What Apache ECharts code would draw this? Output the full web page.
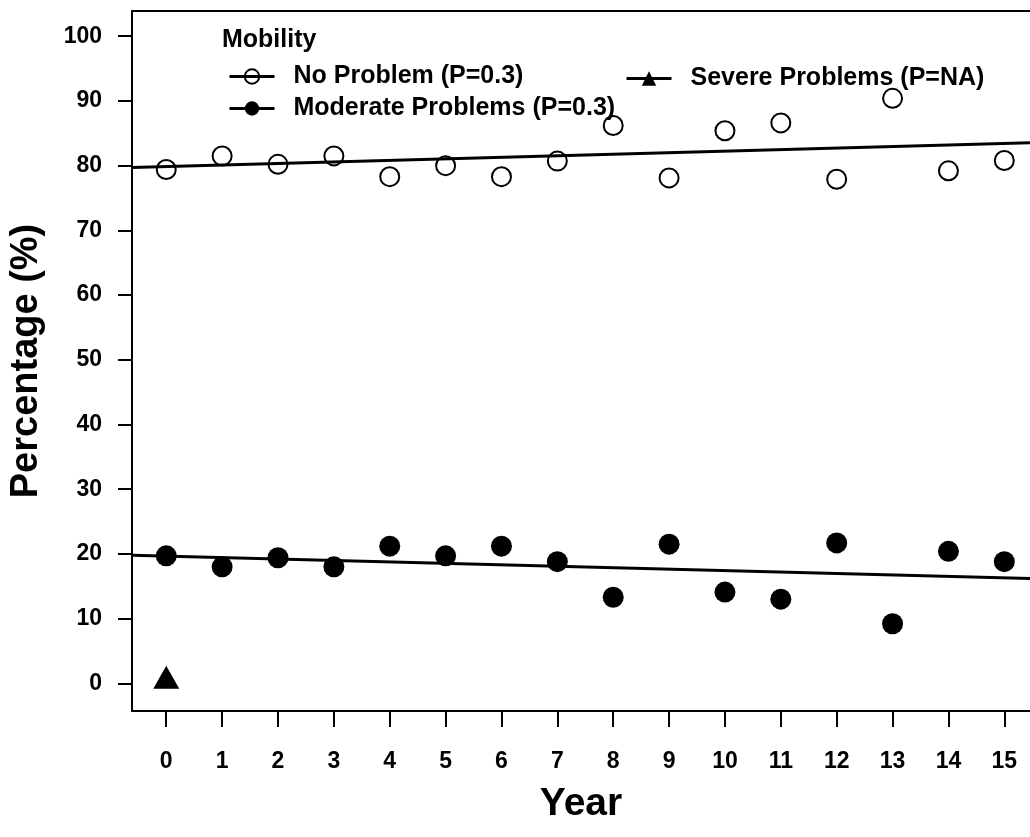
<!DOCTYPE html>
<html>
<head>
<meta charset="utf-8">
<script src="https://cdn.jsdelivr.net/npm/echarts@6/dist/echarts.min.js"></script>
<style>
  html, body { margin: 0; padding: 0; background: #fff; }
  #chart { width: 1030px; height: 837px; }
</style>
</head>
<body>
<div id="chart"></div>
<script>
// Share of respondents by mobility level, per survey year
const years = [0, 1, 2, 3, 4, 5, 6, 7, 8, 9, 10, 11, 12, 13, 14, 15];
const noProblem = [79.4, 81.5, 80.2, 81.5, 78.3, 80.0, 78.3, 80.7, 86.2, 78.1, 85.4, 86.6, 77.9, 90.4, 79.2, 80.8];
const moderateProblems = [19.7, 18.0, 19.4, 18.0, 21.2, 19.7, 21.2, 18.8, 13.3, 21.5, 14.1, 13.0, 21.7, 9.2, 20.4, 18.8];
const severeYears = [0];
const severeProblems = [0.3];

// Fitted trend lines, given by their end points at the edges of the year axis
const noProblemTrend = [[-0.613, 79.7], [15.46, 83.55]];
const moderateTrend = [[-0.613, 19.8], [15.46, 16.2]];

// Axis ranges and tick labels
const xRange = [-0.613, 15.46];
const yRange = [-4.28, 103.9];
const xTicks = [0, 1, 2, 3, 4, 5, 6, 7, 8, 9, 10, 11, 12, 13, 14, 15];
const yTicks = [0, 10, 20, 30, 40, 50, 60, 70, 80, 90, 100];

const seriesNames = ['No Problem (P=0.3)', 'Moderate Problems (P=0.3)', 'Severe Problems (P=NA)'];

const FONT = '"Liberation Sans", Arial, Helvetica, sans-serif';
const INK = '#000';

const pairs = (xs, ys) => xs.map((x, i) => [x, ys[i]]);

const legendText = {
  fontFamily: FONT, fontWeight: 'bold', fontSize: 25, color: INK,
  padding: [0, 0, 0, 14]
};
const legendLine = { color: INK, width: 3, opacity: 1, type: 'solid' };

const chart = echarts.init(document.getElementById('chart'), null, { renderer: 'canvas' });

chart.setOption({
  animation: false,
  backgroundColor: '#fff',
  title: {
    text: 'Mobility',
    left: 222, top: 28, padding: 0,
    textStyle: { fontFamily: FONT, fontWeight: 'bold', fontSize: 25, color: INK }
  },
  legend: [
    {
      data: [seriesNames[0], seriesNames[1]],
      orient: 'vertical', left: 228, top: 64, padding: 0,
      itemWidth: 45, itemHeight: 18, itemGap: 7,
      textStyle: legendText, lineStyle: legendLine,
      selectedMode: false
    },
    {
      data: [seriesNames[2]],
      orient: 'vertical', left: 625, top: 66, padding: 0,
      itemWidth: 45, itemHeight: 18,
      textStyle: legendText, lineStyle: legendLine,
      selectedMode: false
    }
  ],
  grid: { left: 131, right: 0, top: 11, bottom: 126, containLabel: false },
  xAxis: [
    {
      type: 'value', min: xRange[0], max: xRange[1],
      name: 'Year', nameLocation: 'middle', nameGap: 74,
      nameTextStyle: { fontFamily: FONT, fontWeight: 'bold', fontSize: 39, color: INK },
      axisLine: { show: true, onZero: false, lineStyle: { color: INK, width: 2 } },
      axisTick: { show: true, inside: false, length: 16, customValues: xTicks, lineStyle: { color: INK, width: 2 } },
      axisLabel: {
        customValues: xTicks, margin: 39,
        fontFamily: FONT, fontWeight: 'bold', fontSize: 23, color: INK
      },
      splitLine: { show: false }
    },
    {
      // plain frame line along the top edge
      type: 'value', position: 'top', min: xRange[0], max: xRange[1],
      axisLine: { show: true, onZero: false, lineStyle: { color: INK, width: 2 } },
      axisTick: { show: false }, axisLabel: { show: false }, splitLine: { show: false }
    }
  ],
  yAxis: {
    type: 'value', min: yRange[0], max: yRange[1],
    name: 'Percentage (%)', nameLocation: 'middle', nameGap: 86, nameRotate: 90,
    nameTextStyle: { fontFamily: FONT, fontWeight: 'bold', fontSize: 38, color: INK },
    axisLine: { show: true, onZero: false, lineStyle: { color: INK, width: 2 } },
    axisTick: { show: true, inside: false, length: 14, customValues: yTicks, lineStyle: { color: INK, width: 2 } },
    axisLabel: {
      customValues: yTicks, margin: 30,
      fontFamily: FONT, fontWeight: 'bold', fontSize: 23, color: INK
    },
    splitLine: { show: false }
  },
  series: [
    {
      name: seriesNames[0], type: 'line',
      data: pairs(years, noProblem),
      symbol: 'circle', symbolSize: 19, showSymbol: true,
      lineStyle: { opacity: 0 },
      itemStyle: { color: 'rgba(0,0,0,0)', borderColor: INK, borderWidth: 2 },
      emphasis: { disabled: true }, z: 3
    },
    {
      name: seriesNames[1], type: 'line',
      data: pairs(years, moderateProblems),
      symbol: 'circle', symbolSize: 21, showSymbol: true,
      lineStyle: { opacity: 0 },
      itemStyle: { color: INK, borderWidth: 0 },
      emphasis: { disabled: true }, z: 3
    },
    {
      name: seriesNames[2], type: 'line',
      data: pairs(severeYears, severeProblems),
      symbol: 'triangle', symbolSize: [26, 23], symbolOffset: [0, -4], showSymbol: true,
      lineStyle: { opacity: 0 },
      itemStyle: { color: INK, borderWidth: 0 },
      emphasis: { disabled: true }, z: 3
    },
    {
      name: 'trend-no-problem', type: 'line', data: noProblemTrend,
      symbol: 'none', lineStyle: { color: INK, width: 3 },
      emphasis: { disabled: true }, silent: true, z: 2
    },
    {
      name: 'trend-moderate', type: 'line', data: moderateTrend,
      symbol: 'none', lineStyle: { color: INK, width: 3 },
      emphasis: { disabled: true }, silent: true, z: 2
    }
  ]
});
</script>
</body>
</html>
